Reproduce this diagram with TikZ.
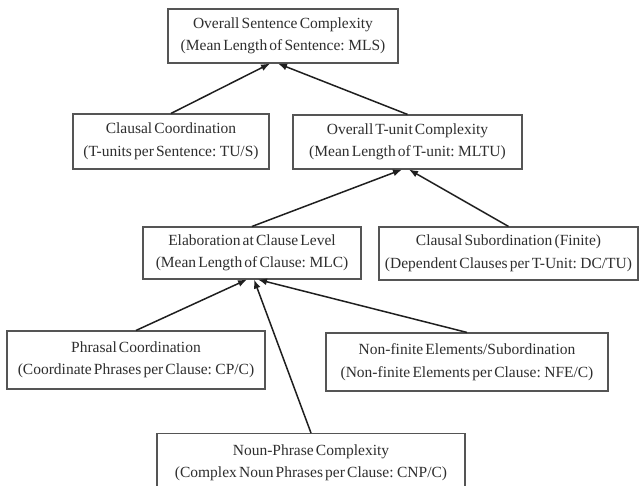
\documentclass[tikz,border=0pt]{standalone}
\usepackage{fontspec}
\setmainfont{Liberation Serif}
\usepackage{xcolor}
\definecolor{boxGray}{HTML}{555555}
\definecolor{textGray}{HTML}{2E2E2E}
\usepackage{tikz}
\usetikzlibrary{arrows.meta,positioning}
\newcommand{\boxFont}{\fontsize{15.5}{22.5}\selectfont\spaceskip=0.14em plus 0.05em\relax}

\begin{document}
\begin{tikzpicture}[x=1pt,y=-1pt,
 box/.style={draw=boxGray,line width=1.1pt,fill=white,inner sep=0pt,align=center,
 text=textGray,font=\boxFont},
 arr/.style={-{Latex[length=9pt,width=7pt]},line width=1.5pt,draw=black!88}]
 \useasboundingbox (0,0) rectangle (639,486);
 \node[box,minimum width=230pt,minimum height=54pt] (sentence) at (283,36)
 {Overall Sentence Complexity\\(Mean Length of Sentence: MLS)};
 \node[box,minimum width=196pt,minimum height=55pt] (clausalCoord) at (171,141.5)
 {Clausal Coordination\\(T-units per Sentence: TU/S)};
 \node[box,minimum width=229pt,minimum height=54pt] (tunit) at (407.5,142)
 {Overall T-unit Complexity\\(Mean Length of T-unit: MLTU)};
 \node[box,minimum width=218pt,minimum height=52pt] (elab) at (252,253)
 {Elaboration at Clause Level\\(Mean Length of Clause: MLC)};
 \node[box,minimum width=259pt,minimum height=53pt] (clausalSub) at (508.5,253.5)
 {Clausal Subordination (Finite)\\(Dependent Clauses per T-Unit: DC/TU)};
 \node[box,minimum width=258pt,minimum height=58pt] (phrasal) at (136,360)
 {Phrasal Coordination\\(Coordinate Phrases per Clause: CP/C)};
 \node[box,minimum width=282pt,minimum height=58pt] (nonFinite) at (467,362)
 {Non-finite Elements/Subordination\\(Non-finite Elements per Clause: NFE/C)};
 \node[box,minimum width=308pt,inner ysep=11pt,anchor=north] (nounPhrase) at (311,433)
 {Noun-Phrase Complexity\\(Complex Noun Phrases per Clause: CNP/C)\rule[-8pt]{0pt}{0pt}};
 % into the sentence level
 \draw[arr] (clausalCoord.north) -- ([xshift=-13pt]sentence.south);
 \draw[arr] (tunit.north) -- ([xshift=-5pt]sentence.south);
 % into the T-unit level
 \draw[arr] (elab.north) -- ([xshift=-5.5pt]tunit.south);
 \draw[arr] (clausalSub.north) -- ([xshift=1.5pt]tunit.south);
 % into the clause level
 \draw[arr] (phrasal.north) -- ([xshift=-5pt]elab.south);
 \draw[arr] (nounPhrase.north) -- ([xshift=2pt]elab.south);
 \draw[arr] (nonFinite.north) -- ([xshift=6pt]elab.south);
\end{tikzpicture}
\end{document}
